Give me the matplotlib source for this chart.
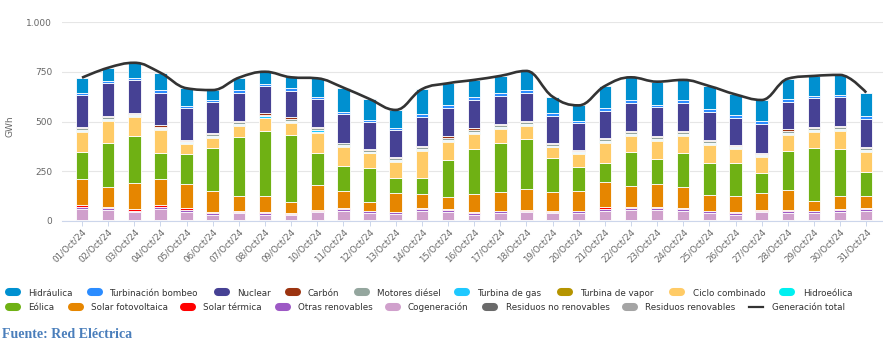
import numpy as np
import matplotlib
matplotlib.use("Agg")
import matplotlib.pyplot as plt
from matplotlib.path import Path
from matplotlib.patches import PathPatch
from matplotlib.lines import Line2D

# ---- data (GWh per day, October 2024) ----
days = [f"{d:02d}/Oct/24" for d in range(1, 32)]

hidraulica = [75, 67, 75, 85, 87, 52, 64, 60, 53, 92, 120, 105, 89, 126, 109, 86,
              88, 97, 84, 78, 109, 112, 117, 102, 113, 104, 106, 100, 103, 101, 117]
bombeo = [12, 10, 12, 18, 14, 8, 14, 12, 14, 14, 14, 12, 12, 15, 14, 15,
          13, 12, 13, 12, 15, 15, 12, 16, 16, 13, 15, 15, 10, 12, 14]
nuclear = [159, 165, 164, 161, 159, 157, 139, 137, 134, 137, 142, 136, 137, 142, 142, 142,
           141, 141, 138, 134, 135, 141, 142, 139, 142, 137, 144, 138, 142, 144, 140]
carbon = [8, 6, 4, 8, 4, 6, 6, 6, 9, 9, 4, 4, 5, 7, 8, 9,
          7, 6, 4, 4, 6, 7, 7, 7, 7, 4, 4, 9, 6, 6, 7]
diesel = [8, 9, 8, 8, 8, 9, 10, 9, 10, 10, 8, 8, 9, 9, 10, 10,
          9, 9, 8, 8, 9, 10, 9, 9, 9, 8, 8, 10, 9, 9, 9]
turbina_gas = [5, 5, 4, 5, 5, 6, 6, 6, 6, 6, 5, 5, 5, 6, 6, 6,
               6, 6, 5, 5, 6, 6, 6, 6, 6, 5, 5, 6, 6, 6, 6]
turbina_vapor = [4, 4, 4, 3, 3, 4, 4, 4, 5, 5, 3, 3, 3, 4, 4, 5,
                 4, 4, 3, 3, 4, 4, 3, 3, 3, 3, 3, 5, 4, 4, 4]
ciclo = [102, 111, 97, 117, 50, 51, 56, 64, 59, 104, 98, 75, 80, 139, 92, 73,
         71, 69, 52, 67, 101, 79, 94, 84, 92, 72, 80, 79, 84, 92, 100]
hidroeolica = [0.1, 0.1, 0.1, 0.1, 0.1, 0.1, 0.1, 0.1, 0.1, 0.1, 0.1, 0.1, 0.1, 0.1, 0.1, 0.1,
               0.1, 0.1, 0.1, 0.1, 0.1, 0.1, 0.1, 0.1, 0.1, 0.1, 0.1, 0.1, 0.1, 0.1, 0.1]
eolica = [136, 224, 235, 130, 151, 214, 295, 326, 335, 159, 125, 168, 79, 78, 188, 229,
          246, 249, 174, 118, 95, 170, 124, 170, 159, 164, 104, 197, 263, 234, 122]
solar_fv = [131, 97, 130, 131, 121, 106, 76, 82, 58, 126, 87, 45, 92, 72, 60, 90,
            92, 106, 94, 100, 129, 109, 114, 109, 79, 82, 84, 101, 50, 67, 62]
solar_term = [10, 8, 10, 10, 12, 4, 3, 3, 2, 3, 3, 3, 3, 3, 3, 3,
              3, 3, 3, 3, 8, 4, 8, 5, 3, 3, 3, 4, 3, 3, 3]
otras_renov = [9, 9, 9, 9, 9, 9, 9, 9, 9, 9, 9, 9, 9, 9, 9, 9,
               9, 9, 9, 9, 9, 9, 9, 9, 9, 9, 9, 9, 9, 9, 9]
cogeneracion = [54, 48, 36, 53, 37, 25, 31, 25, 21, 36, 45, 33, 28, 45, 40, 25,
                33, 36, 31, 33, 45, 49, 48, 43, 33, 25, 36, 35, 33, 40, 45]
residuos_nr = [5, 5, 5, 5, 5, 5, 5, 5, 5, 5, 5, 5, 5, 5, 5, 5,
               5, 5, 5, 5, 5, 5, 5, 5, 5, 5, 5, 5, 5, 5, 5]
residuos_r = [2, 2, 2, 2, 2, 2, 2, 2, 2, 2, 2, 2, 2, 2, 2, 2,
              2, 2, 2, 2, 2, 2, 2, 2, 2, 2, 2, 2, 2, 2, 2]

# legend order (top of stack first, as in the source chart)
series = [
    ("Hidráulica", hidraulica, "#0090d0"),
    ("Turbinación bombeo", bombeo, "#2b8cff"),
    ("Nuclear", nuclear, "#464194"),
    ("Carbón", carbon, "#9c3410"),
    ("Motores diésel", diesel, "#94a69e"),
    ("Turbina de gas", turbina_gas, "#1ec8ff"),
    ("Turbina de vapor", turbina_vapor, "#b59400"),
    ("Ciclo combinado", ciclo, "#ffcb66"),
    ("Hidroeólica", hidroeolica, "#00f0f0"),
    ("Eólica", eolica, "#6fb114"),
    ("Solar fotovoltaica", solar_fv, "#e68600"),
    ("Solar térmica", solar_term, "#ff0000"),
    ("Otras renovables", otras_renov, "#9d59c5"),
    ("Cogeneración", cogeneracion, "#d0a0cc"),
    ("Residuos no renovables", residuos_nr, "#6a6a6a"),
    ("Residuos renovables", residuos_r, "#a4a4a4"),
]

W, H = 883, 344
fig = plt.figure(figsize=(W / 100, H / 100), dpi=100)
ax = fig.add_axes([62 / W, 1 - 221 / H, (883 - 62) / W, (221 - 22) / H])

x = np.arange(len(days))
bottom = np.zeros(len(days))
for name, vals, col in reversed(series):
    v = np.array(vals, dtype=float)
    ax.bar(x, v, width=0.48, bottom=bottom, color=col, edgecolor="white",
           linewidth=0.6, zorder=2)
    bottom += v

total = bottom.copy()


# Highcharts-style spline through the totals
def spline_path(xs, ys, smoothing=1.5):
    n = len(xs)
    lc = [None] * n
    rc = [None] * n
    for i in range(1, n - 1):
        px, py = xs[i], ys[i]
        lx, ly = xs[i - 1], ys[i - 1]
        nx, ny = xs[i + 1], ys[i + 1]
        d = smoothing + 1
        lcx, lcy = (smoothing * px + lx) / d, (smoothing * py + ly) / d
        rcx, rcy = (smoothing * px + nx) / d, (smoothing * py + ny) / d
        if rcx != lcx:
            corr = ((rcy - lcy) * (px - lcx)) / (rcx - lcx) + lcy - py
            lcy += -corr
            rcy += -corr
        if lcy > ly and lcy > py:
            lcy = max(ly, py); rcy = 2 * py - lcy
        elif lcy < ly and lcy < py:
            lcy = min(ly, py); rcy = 2 * py - lcy
        if rcy > ny and rcy > py:
            rcy = max(ny, py); lcy = 2 * py - rcy
        elif rcy < ny and rcy < py:
            rcy = min(ny, py); lcy = 2 * py - rcy
        lc[i] = (lcx, lcy)
        rc[i] = (rcx, rcy)
    verts = [(xs[0], ys[0])]
    codes = [Path.MOVETO]
    for i in range(1, n):
        c1 = rc[i - 1] if rc[i - 1] else (xs[i - 1], ys[i - 1])
        c2 = lc[i] if lc[i] else (xs[i], ys[i])
        verts += [c1, c2, (xs[i], ys[i])]
        codes += [Path.CURVE4] * 3
    return Path(verts, codes)


ax.add_patch(PathPatch(spline_path(list(x), list(total)), fill=False,
                       edgecolor="#333333", linewidth=1.9, zorder=4))

ax.set_xlim(-20 / 26.14, (883 - 82) / 26.14)
ax.set_ylim(0, 1000)
ax.set_yticks([0, 250, 500, 750, 1000])
ax.set_yticklabels(["0", "250", "500", "750", "1.000"])
ax.grid(axis="y", color="#e6e6e6", linewidth=0.8, zorder=0)
ax.set_axisbelow(True)
for s in ["top", "right", "left"]:
    ax.spines[s].set_visible(False)
ax.spines["bottom"].set_color("#ccd6eb")
ax.spines["bottom"].set_linewidth(0.8)
ax.tick_params(axis="y", length=0, pad=7, labelsize=6.5, labelcolor="#666666")
ax.tick_params(axis="x", length=3.6, width=0.7, color="#ccd6eb", pad=1,
               labelsize=6.3, labelcolor="#666666")
ax.set_xticks(x)
ax.set_xticklabels(days, rotation=45, ha="right", va="top", rotation_mode="anchor")


# ---- pixel helpers for the figure-level texts ----
def fx(px):
    return px / W


def fy(py):
    return 1 - py / H


fig.text(fx(10), fy(126), "GWh", rotation=90, fontsize=6.5, color="#666666",
         ha="center", va="center")

legend_rows = [
    (292.3, [("Hidráulica", 5, 28), ("Turbinación bombeo", 87, 109), ("Nuclear", 214, 237),
             ("Carbón", 285, 307), ("Motores diésel", 354, 377), ("Turbina de gas", 454, 477),
             ("Turbina de vapor", 557, 580), ("Ciclo combinado", 669, 693),
             ("Hidroeólica", 779, 803)]),
    (306.7, [("Eólica", 5, 28), ("Solar fotovoltaica", 68, 91), ("Solar térmica", 180, 203),
             ("Otras renovables", 275, 298), ("Cogeneración", 385, 408),
             ("Residuos no renovables", 482, 506), ("Residuos renovables", 622, 645),
             ("Generación total", 749, 772)]),
]
colors = {name: col for name, _, col in series}
for ry, items in legend_rows:
    for name, sx, tx in items:
        if name == "Generación total":
            fig.add_artist(Line2D([fx(sx), fx(sx + 14)], [fy(ry), fy(ry)],
                                  color="#333333", linewidth=1.6))
        else:
            fig.add_artist(Line2D([fx(sx + 4), fx(sx + 12)], [fy(ry), fy(ry)],
                                  color=colors[name], linewidth=5.8,
                                  solid_capstyle="round"))
        fig.text(fx(tx), fy(ry), name, fontsize=6.3, color="#333333",
                 ha="left", va="center_baseline")

fig.text(fx(2), fy(334), "Fuente: Red Eléctrica", fontsize=10, fontweight="bold",
         family="Liberation Serif", color="#4a7ebb", ha="left", va="center")

fig.savefig("out.png", dpi=100)
